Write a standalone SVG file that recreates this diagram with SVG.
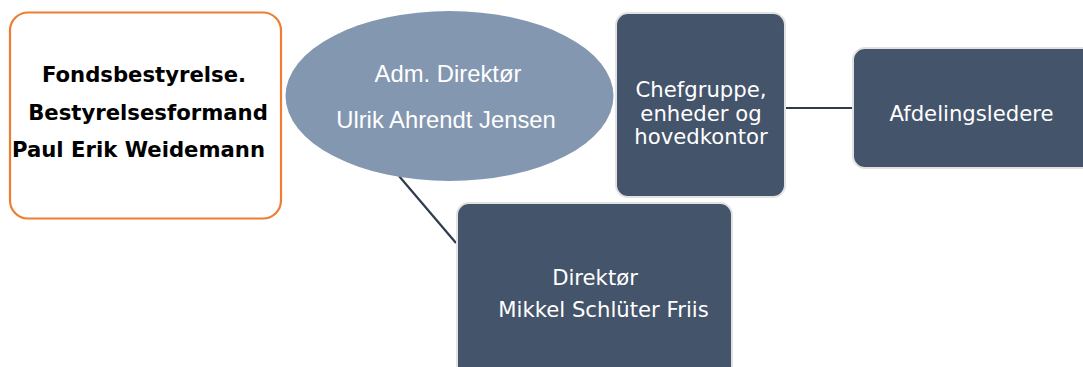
<svg xmlns="http://www.w3.org/2000/svg" width="1083" height="367" viewBox="0 0 1083 367">
<style>
.box{fill:#44546A;stroke:#E2E2E2;stroke-width:2}
.wt{fill:#FFFFFF;font-family:"DejaVu Sans",Verdana,sans-serif;font-size:21.2px;text-anchor:middle}
.et{fill:#FFFFFF;font-family:"Liberation Sans",Arial,sans-serif;font-size:23.8px;text-anchor:middle}
.bt{fill:#000000;font-family:"DejaVu Sans",Verdana,sans-serif;font-weight:bold;font-size:21.2px;text-anchor:middle}
.conn{stroke:#2E3B4E;stroke-width:2.2;fill:none}
</style>
<rect width="1083" height="367" fill="#FFFFFF"/>
<g id="connectors">
<line class="conn" x1="785" y1="108" x2="853" y2="108"/>
<line class="conn" x1="399" y1="176" x2="456" y2="243"/>
</g>
<g id="fondsbestyrelse">
<rect x="10" y="12.5" width="271" height="206" rx="18" fill="#FFFFFF" stroke="#ED7D31" stroke-width="2.2"/>
<text class="bt" x="144" y="82">Fondsbestyrelse.</text>
<text class="bt" x="148" y="120">Bestyrelsesformand</text>
<text class="bt" x="138.5" y="157">Paul Erik Weidemann</text>
</g>
<g id="adm-direktor">
<ellipse cx="449.5" cy="96" rx="164" ry="85" fill="#8497B0"/>
<text class="et" x="448" y="82">Adm. Direktør</text>
<text class="et" x="446" y="128">Ulrik Ahrendt Jensen</text>
</g>
<g id="chefgruppe">
<rect class="box" x="616" y="13" width="169" height="184" rx="12"/>
<text class="wt" x="701" y="97">Chefgruppe,</text>
<text class="wt" x="701" y="121">enheder og</text>
<text class="wt" x="701" y="144">hovedkontor</text>
</g>
<g id="afdelingsledere">
<rect class="box" x="853" y="48" width="245" height="120" rx="12"/>
<text class="wt" x="971.5" y="121">Afdelingsledere</text>
</g>
<g id="direktor">
<rect class="box" x="457" y="203" width="275" height="185" rx="12"/>
<text class="wt" x="595" y="285">Direktør</text>
<text class="wt" x="603.5" y="317">Mikkel Schlüter Friis</text>
</g>
</svg>
